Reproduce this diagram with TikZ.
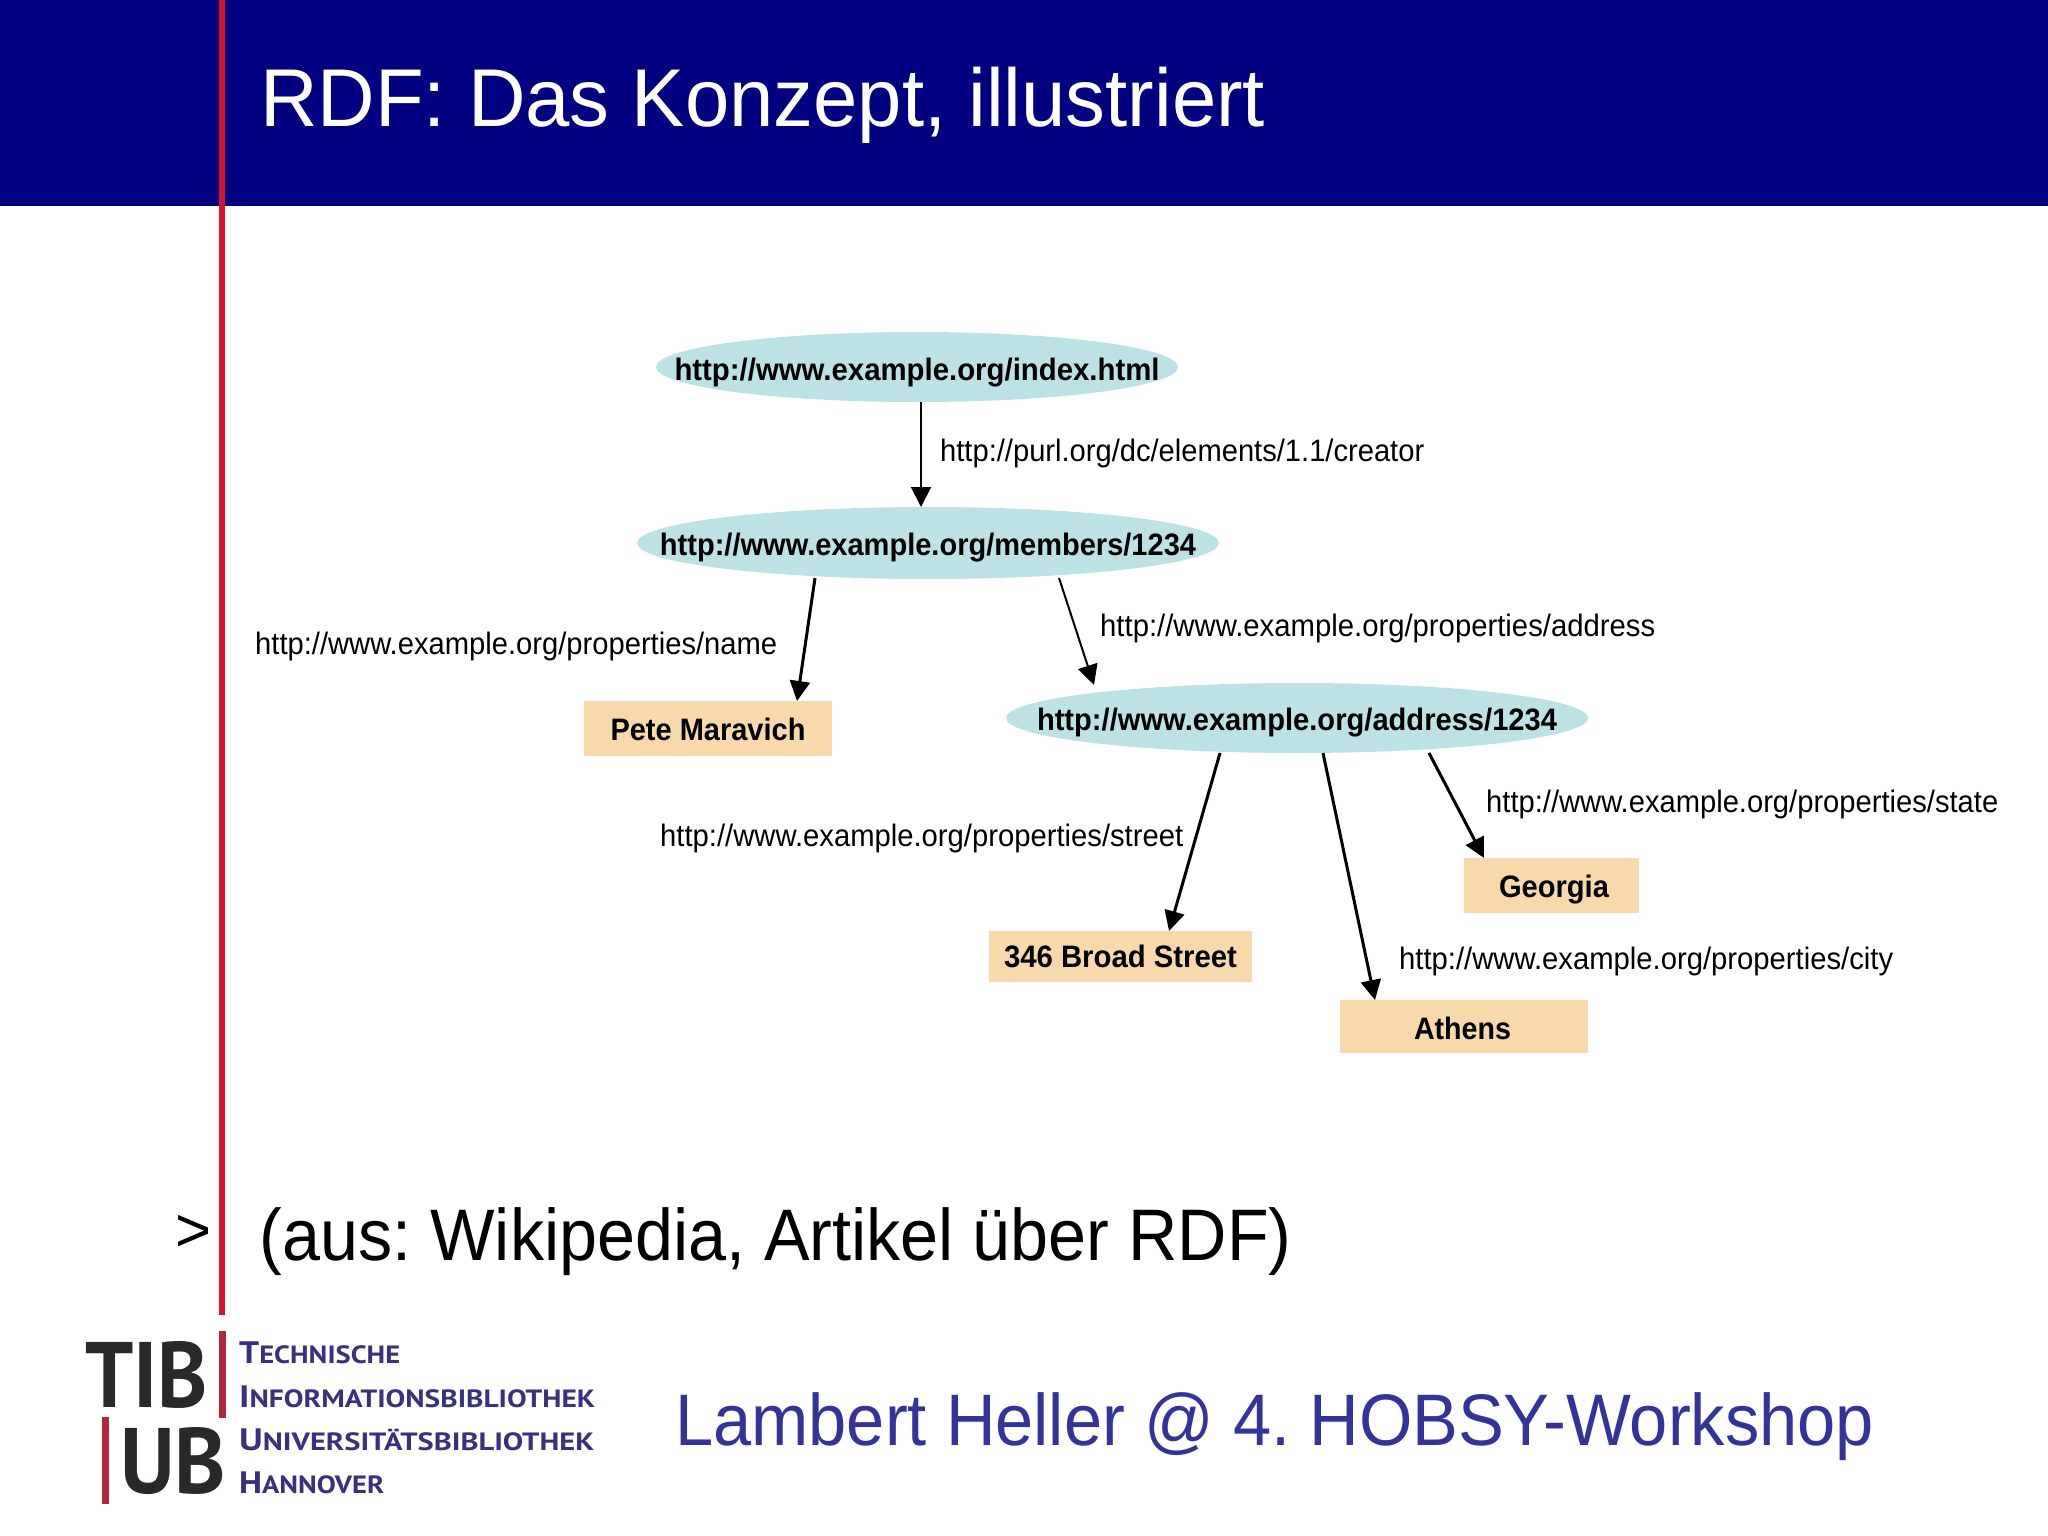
\documentclass[tikz,border=0pt]{standalone}
\usepackage{fontspec}
\usepackage{graphicx}
\setmainfont{Liberation Sans}
\newfontfamily\logofont{PT Sans}
\usetikzlibrary{arrows.meta,calc,shapes.geometric}
\definecolor{headnavy}{HTML}{000080}
\definecolor{barred}{HTML}{D7142B}
\definecolor{logored}{HTML}{B0283F}
\definecolor{logoink}{HTML}{2A282A}
\definecolor{logoblue}{HTML}{37327F}
\definecolor{footblue}{HTML}{333399}
\definecolor{ellfill}{HTML}{BCE2E6}
\definecolor{recfill}{HTML}{F8D9AC}
\frenchspacing
% size, width, text
\newcommand{\fitx}[3]{{\fontsize{#1}{#1}\selectfont\resizebox{#2}{\height}{#3}}}
% bold text centred in a fixed-size shape: width, drop of baseline, text
\newcommand{\inbox}[3]{\makebox[0pt]{\raisebox{-#2}[0pt][0pt]{\fitx{31pt}{#1}{\bfseries #3}}}}
% logo small caps: first letter and the rest
\newcommand{\lc}[2]{{\fontsize{31pt}{31pt}\selectfont #1}{\fontsize{25pt}{25pt}\selectfont #2}}
\tikzset{
  ell/.style={ellipse,fill=ellfill,inner sep=0pt,outer sep=0pt},
  lit/.style={rectangle,fill=recfill,inner sep=0pt,outer sep=0pt},
  prop/.style={inner sep=0pt,anchor=base west,text=black},
  slide/.style={inner sep=0pt,anchor=base west},
  logo/.style={inner sep=0pt,anchor=base west,text=logoblue,font=\logofont\bfseries},
  logobig/.style={inner sep=0pt,anchor=base west,text=logoink,font=\logofont\bfseries},
  conn/.style={draw=black,line width=2pt,-{Triangle[length=20pt,width=20pt]}},
  connb/.style={conn,line width=3pt}
}
\begin{document}
\begin{tikzpicture}[x=1pt,y=-1pt]
\useasboundingbox (0,0) rectangle (2048,1536);
\fill[white] (0,0) rectangle (2048,1536);
\fill[headnavy] (0,0) rectangle (2048,206);
\fill[barred] (219,0) rectangle (225,1315);
\node[slide,text=white] (title) at (260,127) {\fitx{82pt}{1005pt}{RDF: Das Konzept, illustriert}};
\node[slide] (gt) at (175,1251) {\fitx{62pt}{36pt}{>}};
\node[slide] (src) at (259.5,1260) {\fitx{73pt}{1032pt}{(aus: Wikipedia, Artikel über RDF)}};
\node[slide,text=footblue] (foot) at (675,1445) {\fitx{73pt}{1199pt}{Lambert Heller @ 4. HOBSY-Workshop}};
% graph nodes
\node[ell,minimum width=522pt,minimum height=70pt] (e1) at (917,367) {\inbox{485pt}{13pt}{http://www.example.org/index.html}};
\node[ell,minimum width=582pt,minimum height=72pt] (e2) at (928,543) {\inbox{536pt}{12pt}{http://www.example.org/members/1234}};
\node[ell,minimum width=582pt,minimum height=70pt] (e3) at (1297,718) {\inbox{520pt}{12pt}{http://www.example.org/address/1234}};
\node[lit,minimum width=248pt,minimum height=55pt] (pete) at (708,728.5) {\inbox{195pt}{12pt}{Pete Maravich}};
\node[lit,minimum width=263pt,minimum height=51pt] (broad) at (1120.5,956.5) {\inbox{233pt}{11pt}{346 Broad Street}};
\node[lit,minimum width=175pt,minimum height=55pt] (georgia) at (1551.5,885.5) {\hspace*{5pt}\inbox{110pt}{12pt}{Georgia}};
\node[lit,minimum width=248pt,minimum height=53pt] (athens) at (1464,1026.5) {\hspace*{-3pt}\inbox{97pt}{13pt}{Athens}};
% property labels
\node[prop] (pcreator) at (940,461) {\fitx{31pt}{484pt}{http://purl.org/dc/elements/1.1/creator}};
\node[prop] (pname) at (255,654) {\fitx{31pt}{522pt}{http://www.example.org/properties/name}};
\node[prop] (paddr) at (1100,636) {\fitx{31pt}{555pt}{http://www.example.org/properties/address}};
\node[prop] (pstreet) at (660,846) {\fitx{31pt}{523pt}{http://www.example.org/properties/street}};
\node[prop] (pstate) at (1486,812) {\fitx{31pt}{512pt}{http://www.example.org/properties/state}};
\node[prop] (pcity) at (1399,969) {\fitx{31pt}{494pt}{http://www.example.org/properties/city}};
% connectors
\draw[conn] ($(e1.center)+(4,35)$) -- ($(e2.center)+(-7,-36)$);
\draw[connb] ($(e2.center)+(-113,35)$) -- ($(pete.north)+(89,0)$);
\draw[conn] ($(e2.center)+(131,35)$) -- ($(e3.center)+(-203,-33)$);
\draw[connb] ($(e3.center)+(-77,35)$) -- ($(broad.north)+(48.5,0)$);
\draw[connb] ($(e3.center)+(26,35)$) -- ($(athens.north)+(-89,0)$);
\draw[connb] ($(e3.center)+(132,35)$) -- ($(georgia.north)+(-67.5,0)$);
% logo
\fill[logored] (219,1331) rectangle (226,1418);
\fill[logored] (101.5,1417) rectangle (109,1504);
\node[logobig] (tib) at (85,1407) {\fitx{93pt}{123pt}{TIB}};
\node[logobig] (ub) at (120,1493) {\fitx{93pt}{106pt}{UB}};
\node[logo] (l1) at (239,1363) {\resizebox{161pt}{\height}{\lc{T}{ECHNISCHE}}};
\node[logo] (l2) at (239,1407) {\resizebox{356pt}{\height}{\lc{I}{NFORMATIONSBIBLIOTHEK}}};
\node[logo] (l3) at (239,1450) {\resizebox{355pt}{\height}{\lc{U}{NIVERSITÄTSBIBLIOTHEK}}};
\node[logo] (l4) at (239,1493) {\resizebox{145pt}{\height}{\lc{H}{ANNOVER}}};
\end{tikzpicture}
\end{document}
